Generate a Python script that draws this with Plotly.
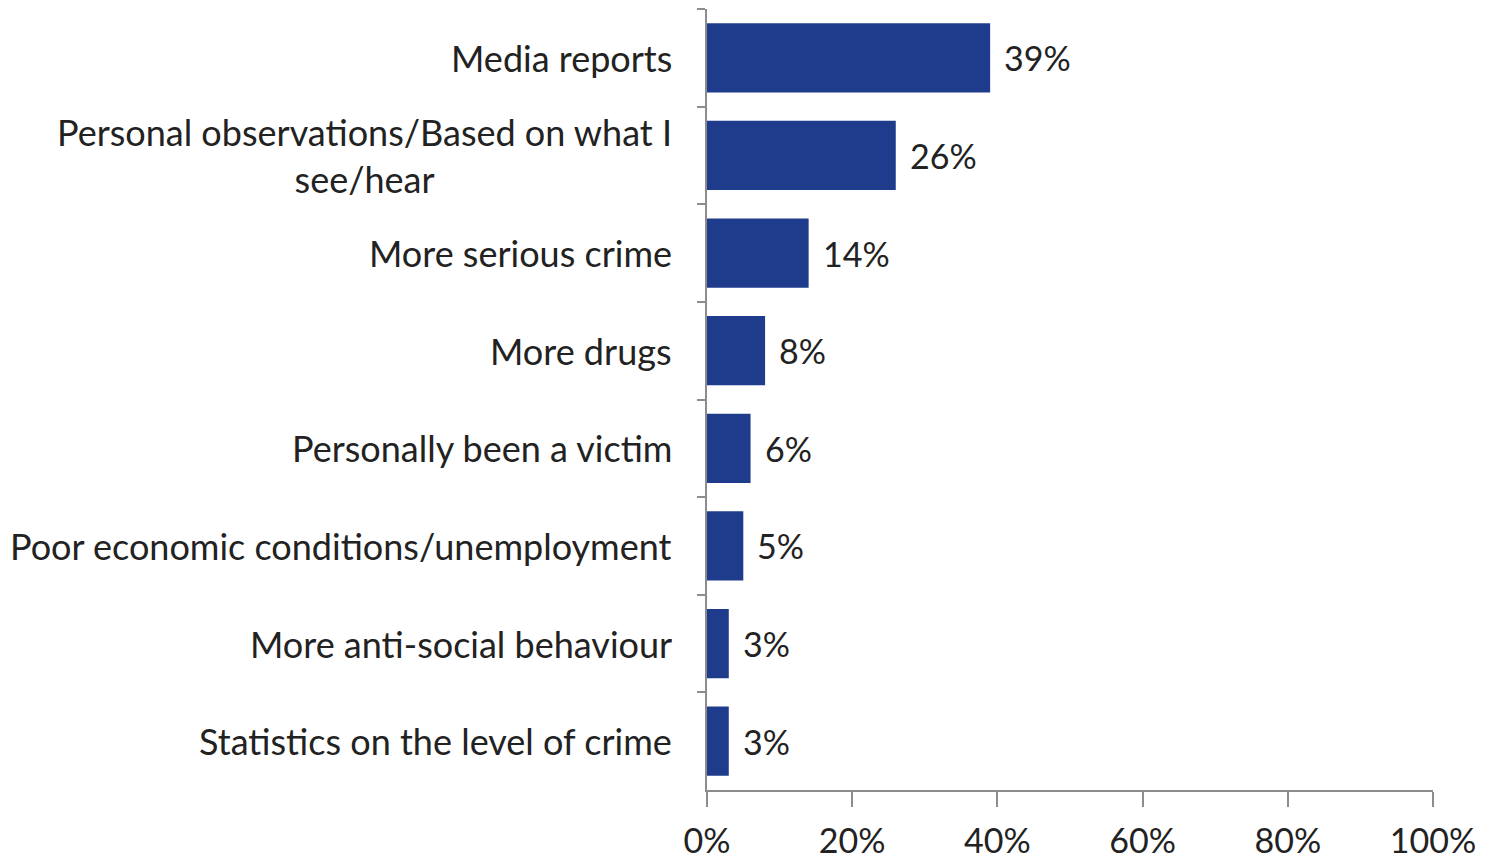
import plotly.graph_objects as go

categories = [
    "Media reports",
    "Personal observations/Based on what I<br>see/hear",
    "More serious crime",
    "More drugs",
    "Personally been a victim",
    "Poor economic conditions/unemployment",
    "More anti-social behaviour",
    "Statistics on the level of crime",
]
values = [39, 26, 14, 8, 6, 5, 3, 3]
tick_vals = [0, 20, 40, 60, 80, 100]
tick_text = ["0%", "20%", "40%", "60%", "80%", "100%"]

FONT = "Lato"
BAR = "#1f3c8c"
TXT = "#222222"

fig = go.Figure()
fig.add_trace(go.Bar(
    y=categories, x=values, orientation="h",
    marker=dict(color=BAR, line=dict(width=0)),
    width=0.71,
    cliponaxis=False,
))

for c, v in zip(categories, values):
    fig.add_annotation(
        x=0, xref="paper", xshift=-33, y=c, yref="y",
        text=c, showarrow=False, xanchor="right", yanchor="middle",
        align="center", font=dict(family=FONT, size=36, color=TXT),
    )
    fig.add_annotation(
        x=v, xref="x", xshift=12, y=c, yref="y",
        text=f"{v}%", showarrow=False, xanchor="left", yanchor="middle",
        font=dict(family=FONT, size=34, color=TXT),
    )

fig.update_layout(
    width=1486, height=860,
    margin=dict(l=699, r=61, t=1, b=78),
    paper_bgcolor="white", plot_bgcolor="white",
    showlegend=False, bargap=0.29,
    font=dict(family=FONT, size=34, color=TXT),
)
fig.update_xaxes(
    range=[0, 100], tickvals=tick_vals, ticktext=tick_text,
    showgrid=False, zeroline=False,
    showline=True, linecolor="#8c8c8c", linewidth=1.5,
    ticks="outside", ticklen=15, tickcolor="#8c8c8c", tickwidth=1.5,
    ticklabelstandoff=5,
    tickfont=dict(family=FONT, size=34, color=TXT),
)
fig.update_yaxes(
    categoryorder="array", categoryarray=categories,
    autorange="reversed",
    showgrid=False, zeroline=False,
    showline=True, linecolor="#8c8c8c", linewidth=1.5,
    ticks="outside", tickson="boundaries", ticklen=8,
    tickcolor="#8c8c8c", tickwidth=1.5,
    showticklabels=False,
)
fig.write_html("out.html")
